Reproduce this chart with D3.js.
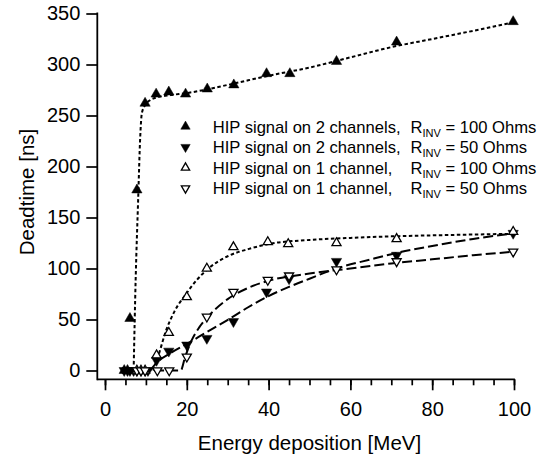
<!DOCTYPE html>
<html>
<head>
<meta charset="utf-8">
<script src="https://cdn.jsdelivr.net/npm/d3@7"></script>
<style>
  html, body { margin: 0; padding: 0; background: #fff; }
  svg { display: block; font-family: "Liberation Sans", Arial, Helvetica, sans-serif; }
</style>
</head>
<body>
<svg id="chart" width="541" height="458"></svg>
<script>
// ---- data ----
const xTicks = [0, 20, 40, 60, 80, 100];
const xMinorTicks = [0, 5, 10, 15, 20, 25, 30, 35, 40, 45, 50, 55, 60, 65, 70, 75, 80, 85, 90, 95, 100];
const yTicks = [0, 50, 100, 150, 200, 250, 300, 350];

// 2 channels, R = 100 Ohms (filled up triangles)
const s1x = [4.7, 5.5, 6.1, 7.8, 9.8, 12.5, 15.6, 19.7, 25, 31.5, 39.5, 45.2, 56.6, 71.3, 99.8];
const s1y = [0, 0, 51, 177, 262, 271, 273, 271, 276, 280, 291, 291, 303, 322, 342];
// 2 channels, R = 50 Ohms (filled down triangles)
const s2x = [4.7, 5.5, 6.1, 7.0, 7.8, 8.8, 9.8, 10.5, 12.6, 15.6, 20, 24.9, 31.4, 39.5, 45, 56.6, 71.3, 99.8];
const s2y = [0, 0, 0, 0, 0, 0, 0, 0, 10, 19, 25, 31.5, 48, 77, 90, 107, 113, 134.5];
// 1 channel, R = 100 Ohms (open up triangles)
const s3x = [7.8, 8.8, 9.8, 12.6, 15.6, 20, 24.9, 31.4, 39.8, 44.8, 56.6, 71.3, 99.8];
const s3y = [0, 0, 0, 15, 37, 72, 100, 121, 126, 124, 125, 129, 136];
// 1 channel, R = 50 Ohms (open down triangles)
const s4x = [7.8, 8.8, 9.8, 12.8, 15.7, 20, 24.9, 31.4, 39.8, 45, 56.6, 71.3, 99.8];
const s4y = [0, 0, 0, 0, 0, 13.5, 52.7, 77, 88.7, 93, 99, 107, 116.5];

// fitted curves
const f1x = [7.0, 7.5, 8.1, 8.6, 9.0, 9.8, 11, 13, 16, 20, 30, 40, 50, 60, 70, 80, 90, 100];
const f1y = [0, 90, 167, 228, 252, 260, 265, 268, 270, 272, 280, 289, 297, 307, 317, 325, 333, 341.5];
const f2x = [11, 13, 16, 20, 25, 31, 35, 40, 45, 50, 56.6, 65, 71, 80, 90, 100];
const f2y = [0, 9, 17, 26, 38, 52, 62, 73, 82, 90, 100, 109, 115, 122, 129, 134.5];
const f3x = [11.8, 13, 15, 17, 20, 22.5, 25, 30, 35, 40, 50, 60, 70, 80, 100];
const f3y = [0, 14, 40, 58, 76, 89, 99, 112, 119, 124, 128, 130, 131.5, 132.5, 134];
const f4x = [12, 18.5, 19.5, 21, 23, 25, 30, 35, 40, 50, 60, 70, 80, 90, 100];
const f4y = [0, 0, 12, 28, 42, 52, 70, 81, 88, 95, 100, 105, 109, 113, 116.5];

const legendMain = ["HIP signal on 2 channels,", "HIP signal on 2 channels,", "HIP signal on 1 channel,", "HIP signal on 1 channel,"];
const legendOhms = ["= 100 Ohms", "= 50 Ohms", "= 100 Ohms", "= 50 Ohms"];
const xTitle = "Energy deposition [MeV]";
const yTitle = "Deadtime [ns]";

// ---- drawing ----
const svg = d3.select("#chart");
const x = d3.scaleLinear().domain([0, 100]).range([105, 514]);
const y = d3.scaleLinear().domain([0, 350]).range([370.5, 13.5]);
const axisYpos = 379.3, axisXpos = 97.3;
const font = "'Liberation Sans', Arial, Helvetica, sans-serif";

// X axis
const gx = svg.append("g").attr("transform", `translate(0,${axisYpos})`);
gx.call(d3.axisBottom(x).tickValues(xMinorTicks).tickSize(6).tickSizeOuter(0).tickFormat(""));
gx.call(g => g.select(".domain").remove());
const gx2 = svg.append("g").attr("transform", `translate(0,${axisYpos})`);
gx2.call(d3.axisBottom(x).tickValues(xTicks).tickSize(11).tickSizeOuter(0).tickPadding(11.5).tickFormat(d3.format("d")));
gx2.select(".domain").remove();
svg.append("line").attr("x1", axisXpos).attr("x2", x(100) + 0.9)
  .attr("y1", axisYpos).attr("y2", axisYpos).attr("stroke", "#000").attr("stroke-width", 1.8);

// Y axis
const gy = svg.append("g").attr("transform", `translate(${axisXpos},0)`);
gy.call(d3.axisLeft(y).tickValues(yTicks).tickSize(11).tickSizeOuter(0).tickPadding(6).tickFormat(d3.format("d")));
gy.select(".domain").remove();
svg.append("line").attr("x1", axisXpos).attr("x2", axisXpos)
  .attr("y1", y(350) - 1).attr("y2", axisYpos + 0.9).attr("stroke", "#000").attr("stroke-width", 1.8);

svg.selectAll(".tick line").attr("stroke", "#000").attr("stroke-width", 1.7);
svg.selectAll(".tick text").attr("font-size", 20).attr("font-family", font).attr("fill", "#000");

// axis titles
svg.append("text").attr("x", (x(0) + x(100)) / 2).attr("y", 449.5)
  .attr("text-anchor", "middle").attr("font-size", 20.5).attr("font-family", font).text(xTitle);
svg.append("text").attr("transform", `translate(34,${(y(0) + y(350)) / 2}) rotate(-90)`)
  .attr("text-anchor", "middle").attr("font-size", 20.5).attr("font-family", font).text(yTitle);

// fit curves
const fits = [
  { xs: f1x, ys: f1y, dash: "3.5,2.5" },
  { xs: f2x, ys: f2y, dash: "10,4" },
  { xs: f3x, ys: f3y, dash: "3.5,2.5" },
  { xs: f4x, ys: f4y, dash: "10,4" }
];
const line = d3.line().x(d => x(d[0])).y(d => y(d[1])).curve(d3.curveMonotoneX);
fits.forEach(f => {
  svg.append("path").datum(f.xs.map((v, i) => [v, f.ys[i]]))
    .attr("d", line).attr("fill", "none").attr("stroke", "#000")
    .attr("stroke-width", 2).attr("stroke-dasharray", f.dash);
});

// markers
const series = [
  { xs: s1x, ys: s1y, filled: true, rot: 0 },
  { xs: s2x, ys: s2y, filled: true, rot: 180 },
  { xs: s3x, ys: s3y, filled: false, rot: 0 },
  { xs: s4x, ys: s4y, filled: false, rot: 180 }
];
const sym = d3.symbol().type(d3.symbolTriangle);
function drawMarker(g, cx, cy, s, size) {
  g.append("path").attr("d", sym.size(size)())
    .attr("transform", `translate(${cx},${cy}) rotate(${s.rot})`)
    .attr("fill", s.filled ? "#000" : "#fff")
    .attr("stroke", "#000").attr("stroke-width", s.filled ? 0.5 : 1.3)
    .attr("stroke-linejoin", "miter");
}
series.forEach(s => {
  const g = svg.append("g");
  s.xs.forEach((v, i) => drawMarker(g, x(v), y(s.ys[i]), s, s.filled ? 46 : 36));
});

// legend
const lg = svg.append("g");
series.forEach((s, i) => {
  const cy = 126.5 + i * 20.6;
  drawMarker(lg, 185.5, cy, s, s.filled ? 38 : 30);
  lg.append("text").attr("x", 212.7).attr("y", cy + 6).attr("font-size", 16.6)
    .attr("font-family", font).text(legendMain[i]);
  const t = lg.append("text").attr("x", 410.5).attr("y", cy + 6).attr("font-size", 16.6)
    .attr("font-family", font);
  t.append("tspan").text("R");
  t.append("tspan").attr("font-size", 11).attr("dy", 4).text("INV");
  t.append("tspan").attr("dy", -4).text("\u00A0" + legendOhms[i]);
});
</script>
</body>
</html>
